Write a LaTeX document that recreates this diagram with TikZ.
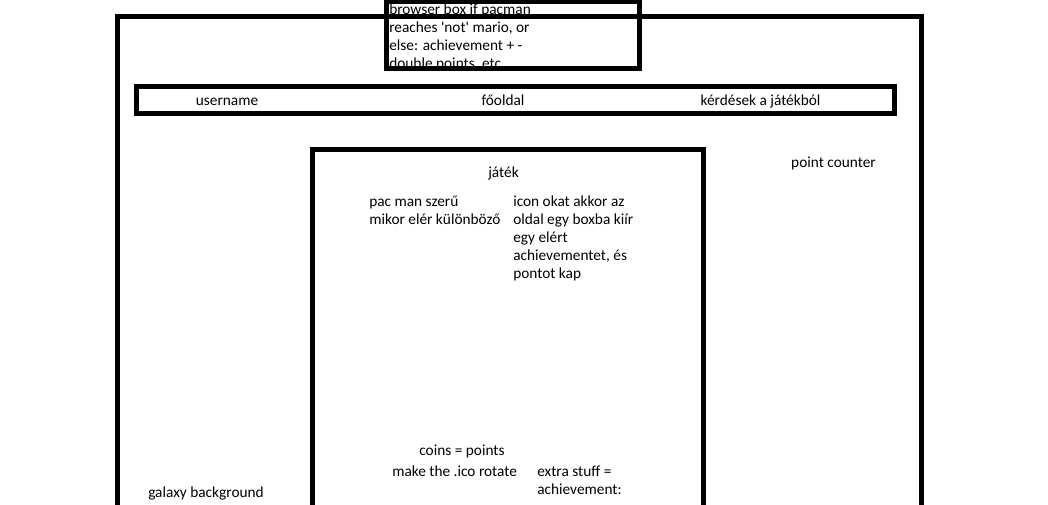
\documentclass[tikz,border=0pt]{standalone}
\usepackage{fontspec}
\setmainfont{Carlito}[Ligatures=TeXOff]

\begin{document}
\begin{tikzpicture}[x=0.75pt, y=-0.75pt,
	frame/.style={draw=black, line width=3.75pt},
	lbl/.style={inner sep=0pt, font=\fontsize{11.5}{13.5}\selectfont},
	para/.style={lbl, align=left, anchor=base west}]
	
	% 1. Page size
	\useasboundingbox (0,0) rectangle (1048,505);
	\clip (0,0) rectangle (1048,505);
	
	% 2. Popup box (base = last line)
	\node[para] (popup) at (389,69) {browser box if pacman\\reaches 'not' mario, or\\else: achievement + -\\double points, etc...};
	\draw[frame] (386.5,1.5) rectangle (639.5,69);
	
	% 3. Page frame and menu bar
	\draw[frame] (117.5,16.5) rectangle (921.5,530);
	\draw[frame] (136.5,86.5) rectangle (894,113.5);
	\node[lbl, anchor=base] (user) at (227,105.5) {username};
	\node[lbl, anchor=base] (home) at (503,105.5) {főoldal};
	\node[lbl, anchor=base] (quest) at (760.5,105.5) {kérdések a játékból};
	
	% 4. Game area
	\draw[frame] (312.5,150) rectangle (703.5,530);
	\node[lbl, anchor=base] (game) at (503.5,177.5) {játék};
	\node[para] (pacman) at (369,224.5) {pac man szerű\\mikor elér különböző};
	\node[para] (icons) at (513,278.5) {icon okat akkor az\\oldal egy boxba kiír\\egy elért\\achievementet, és\\pontot kap};
	\node[lbl, anchor=base] (coins) at (462,455.5) {coins = points};
	\node[lbl, anchor=base west] (rotate) at (392,476.5) {make the .ico rotate};
	\node[para] (extra) at (537,494.5) {extra stuff =\\achievement:};
	
	% 5. Side texts
	\node[lbl, anchor=base] (points) at (833.5,167.5) {point counter};
	\node[lbl, anchor=base west] (galaxy) at (148,497.5) {galaxy background};
	
\end{tikzpicture}
\end{document}
